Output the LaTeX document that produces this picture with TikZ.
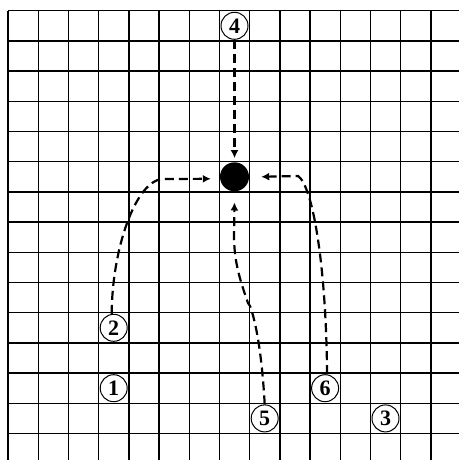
\documentclass[tikz,border=0pt]{standalone}
\usepackage{fontspec}
\setmainfont{Liberation Serif}
\usetikzlibrary{arrows.meta}
\begin{document}
\begin{tikzpicture}[x=1pt,y=-1pt,
  gridline/.style={line width=1.4pt,black},
  numcirc/.style={circle,draw,line width=1pt,fill=white,minimum size=27pt,inner sep=0pt,
    font=\fontsize{22}{22}\selectfont\bfseries},
  bigdot/.style={circle,fill=black,minimum size=29pt,inner sep=0pt},
  flow/.style={line width=2.2pt,dash pattern=on 9pt off 5pt,-{Latex[length=8pt,width=8pt]}}]
\useasboundingbox (0,0) rectangle (459,460);
\fill[white] (0,0) rectangle (459,460);
\foreach \k in {0,...,14}{
  \draw[gridline] ({8+30.2*\k},10.7) -- ({8+30.2*\k},460);
  \draw[gridline] (8,{10.7+30.2*\k}) -- (459,{10.7+30.2*\k});
}
\node[numcirc] (n4) at (234.5,25.8) {4};
\node[bigdot] (dot) at (234.5,176.8) {};
\node[numcirc] (n2) at (113.7,327.8) {2};
\node[numcirc] (n1) at (113.7,388.2) {1};
\node[numcirc] (n5) at (264.7,418.4) {5};
\node[numcirc] (n6) at (325.1,388.2) {6};
\node[numcirc] (n3) at (385.5,418.4) {3};
\coordinate (t2) at ([xshift=-9pt,yshift=-2pt]dot.west);
\coordinate (t6) at ([xshift=12pt]dot.east);
\coordinate (t5) at ([yshift=-11pt]dot.south);
\draw[flow] (n4.south) -- ([yshift=4pt]dot.north);
\draw[flow] ([xshift=-2pt]n2.north) .. controls (112,250) and (135,182) .. (162,179) -- (t2);
\draw[flow] ([xshift=2pt]n6.north) .. controls (326,260) and (312,185) .. (298,176) -- (t6);
\draw[flow] (n5.north) .. controls (262,355) and (256,322) .. (250,306) -- (248,303)
  .. controls (240,280) and (234,262) .. (234,235) -- (t5);
\end{tikzpicture}
\end{document}
